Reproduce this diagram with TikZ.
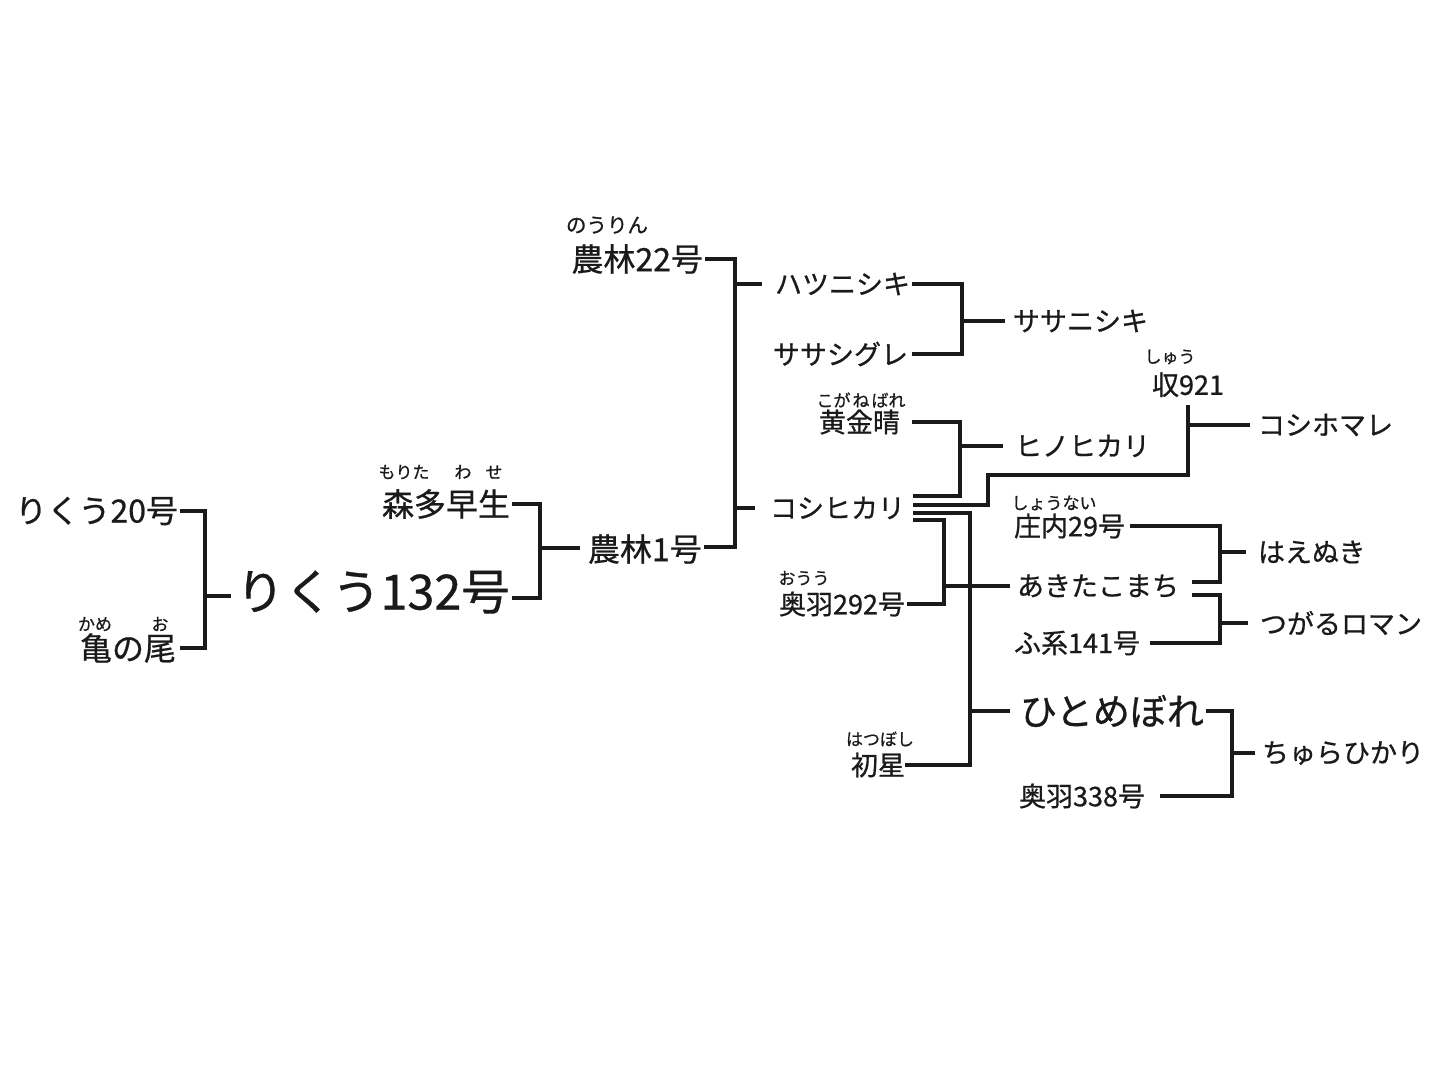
\documentclass[tikz,border=0pt]{standalone}
\usepackage{fontspec}
\setmainfont{Noto Sans CJK JP}[FakeBold=0.7]
\usetikzlibrary{calc}
\definecolor{ink}{HTML}{1A1A1A}
\begin{document}
\begin{tikzpicture}[x=1pt,y=-1pt,
  every node/.style={inner sep=0pt,outer sep=0pt,text=ink},
  lblL/.style={font=\fontsize{32}{35}\selectfont},
  lblM/.style={font=\fontsize{27}{30}\selectfont},
  lblB/.style={font=\fontsize{48.5}{52}\selectfont},
  lblH/.style={font=\fontsize{37}{40}\selectfont},
  ruby/.style={font=\fontsize{17}{19}\selectfont},
  rubyL/.style={font=\fontsize{20.5}{22}\selectfont},
  wire/.style={draw=ink,line width=3.1pt},
]
\useasboundingbox (0,0) rectangle (1440,1080);
\fill[white] (0,0) rectangle (1440,1080);

% ---------- labels ----------
\node[lblL,anchor=east] (r20) at (178,511) {りくう20号};
\node[lblL,anchor=east] (kame) at (176,648) {亀の尾};
\node[lblB,anchor=west] (r132) at (236,592) {りくう132号};
\node[lblL,anchor=east] (mori) at (510,504) {森多早生};
\node[lblL,anchor=west] (n1) at (588,549) {農林1号};
\node[lblL,anchor=east] (n22) at (703,259) {農林22号};
\node[lblM,anchor=west] (hatsu) at (775,284) {ハツニシキ};
\node[lblM,anchor=east] (sasag) at (908,354) {ササシグレ};
\node[lblM,anchor=west] (sasan) at (1013,321) {ササニシキ};
\node[lblM,anchor=east] (kogane) at (900,422) {黄金晴};
\node[lblM,anchor=west] (hino) at (1015,446) {ヒノヒカリ};
\node[lblM,anchor=east] (kosi) at (905,508) {コシヒカリ};
\node[lblM,anchor=south] (shu) at (1188,397) {収921};
\node[lblM,anchor=west] (kosiho) at (1258,425) {コシホマレ};
\node[lblM,anchor=east] (shonai) at (1125,526) {庄内29号};
\node[lblM,anchor=west] (akita) at (1017,586) {あきたこまち};
\node[lblM,anchor=east] (fukei) at (1140,643) {ふ系141号};
\node[lblM,anchor=west] (haenuki) at (1258,552) {はえぬき};
\node[lblM,anchor=west] (tsugaru) at (1260,623) {つがるロマン};
\node[lblH,anchor=west] (hitome) at (1020,711) {ひとめぼれ};
\node[lblM,anchor=east] (ou338) at (1145,796) {奥羽338号};
\node[lblM,anchor=west] (chura) at (1262,753) {ちゅらひかり};
\node[lblM,anchor=east] (hatsuboshi) at (905,765) {初星};
\node[lblM,anchor=east] (ou292) at (905,604) {奥羽292号};

% ---------- ruby ----------
\node[rubyL] (rnoulin) at (607,225) {のうりん};
\node[ruby] (rmorita) at (404,472) {もりた};
\node[ruby] (rwa) at (463,472) {わ};
\node[ruby] (rse) at (494,472) {せ};
\node[ruby] (rkame) at (95,624) {かめ};
\node[ruby] (ro) at (160,624) {お};
\node[ruby] (rkogane) at (861,400) {こが\hspace{2pt}ね\hspace{2pt}ばれ};
\node[ruby] (rouu) at (804,578) {おうう};
\node[ruby] (rhatsu) at (880,739) {はつぼし};
\node[ruby] (rshu) at (1170,357) {しゅう};
\node[ruby] (rshonai) at (1054,503) {しょうない};

% ---------- connectors ----------
\coordinate (j1) at (205,596);
\draw[wire,shorten <=2pt,shorten >=4pt] (r20.east) -| (j1) |- (kame.east);
\draw[wire,shorten >=5pt] (j1) -- (j1 -| r132.west);

\coordinate (j2) at (540,548);
\draw[wire,shorten <=2pt,shorten >=2pt] (mori.east) -| (j2) |- ($(r132.east)+(0,6)$);
\draw[wire,shorten >=8pt] (j2) -- (j2 -| n1.west);

\coordinate (j3) at (735,400);
\draw[wire,shorten <=2pt,shorten >=2pt] (n22.east) -| (j3) |- ($(n1.east)+(0,-2)$);
\draw[wire,shorten >=13pt] (j3 |- hatsu.west) -- (hatsu.west);
\draw[wire,shorten >=15pt] (j3 |- kosi.west) -- (kosi.west);

\coordinate (j4) at (962,321);
\draw[wire,shorten <=2pt,shorten >=4pt] (hatsu.east) -| (j4) |- (sasag.east);
\draw[wire,shorten >=8pt] (j4) -- (sasan.west);

\coordinate (j5) at (960,446);
\draw[wire,shorten <=12pt,shorten >=8pt] (kogane.east) -| (j5) |- ($(kosi.east)+(0,-12)$);
\draw[wire,shorten >=12pt] (j5) -- (hino.west);

\coordinate (k2) at (988,475);
\coordinate (j6) at (shu.south |- kosiho.west);
\draw[wire,shorten <=8pt,shorten >=8pt] ($(kosi.east)+(0,-3)$) -| (k2) -| (shu.south);
\draw[wire,shorten >=8pt] (j6) -- (kosiho.west);

\coordinate (j7) at (970,711);
\draw[wire,shorten <=8pt] ($(kosi.east)+(0,5)$) -| (j7) |- (hatsuboshi.east);
\draw[wire,shorten >=10pt] (j7) -- (hitome.west);

\coordinate (j8) at (944,586);
\draw[wire,shorten <=8pt,shorten >=2pt] ($(kosi.east)+(0,12)$) -| (j8) |- (ou292.east);
\draw[wire,shorten >=7pt] (j8) -- (akita.west);

\coordinate (j9) at (1220,552);
\draw[wire,shorten <=5pt,shorten >=13pt] (shonai.east) -| (j9) |- ($(akita.east)+(0,-4)$);
\draw[wire,shorten >=12pt] (j9) -- (haenuki.west);

\coordinate (j10) at (1220,623);
\draw[wire,shorten <=13pt,shorten >=10pt] ($(akita.east)+(0,9)$) -| (j10) |- (fukei.east);
\draw[wire,shorten >=12pt] (j10) -- (tsugaru.west);

\coordinate (j11) at (1232,753);
\draw[wire,shorten <=2pt,shorten >=15pt] (hitome.east) -| (j11) |- (ou338.east);
\draw[wire,shorten >=7pt] (j11) -- (chura.west);
\end{tikzpicture}
\end{document}
